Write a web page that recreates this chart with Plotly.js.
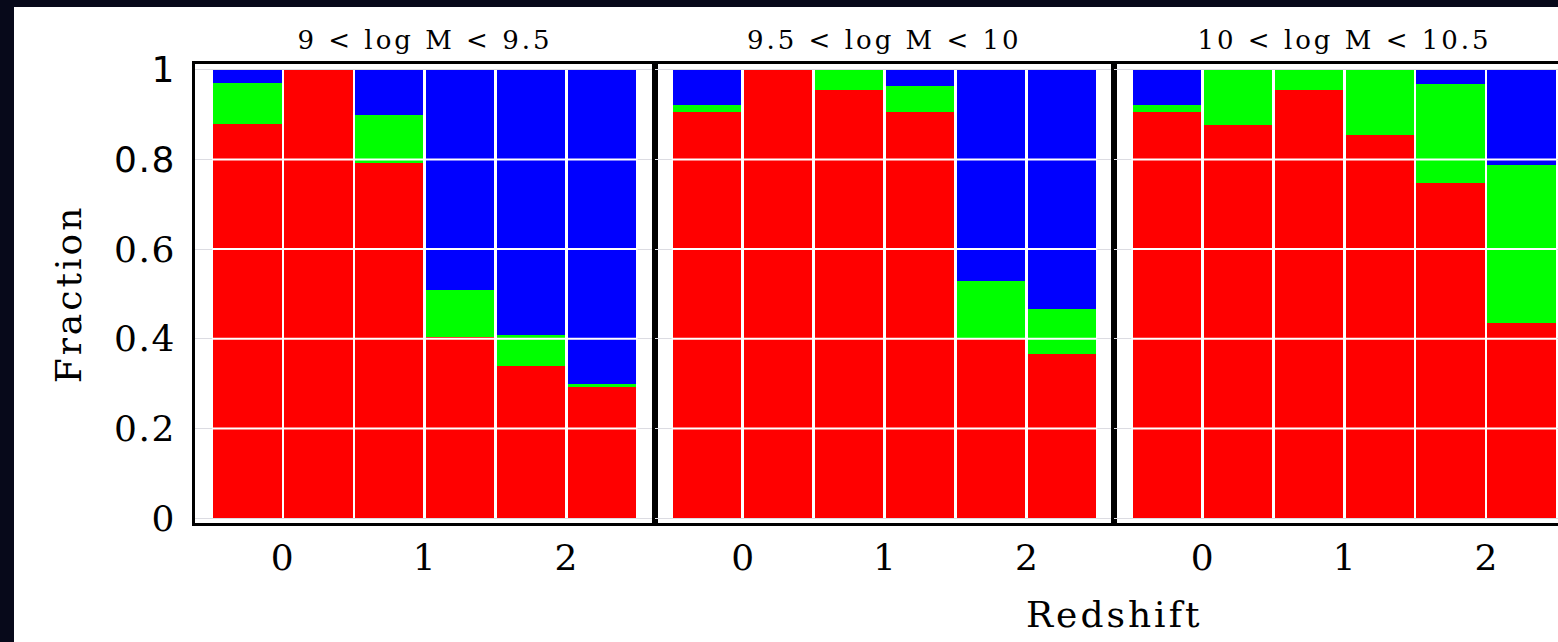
<!DOCTYPE html>
<html>
<head>
<meta charset="utf-8">
<script src="https://cdn.plot.ly/plotly-3.0.1.min.js"></script>
<style>
  html, body { margin: 0; padding: 0; background: #07091a; overflow: hidden; width: 1558px; height: 642px; }
  #chart { position: absolute; left: 14px; top: 7px; width: 1600px; height: 635px; }
  #chart .xtick text, #chart .ytick text { letter-spacing: 1.5px; }
  #chart .annotation-text { letter-spacing: 3px; }
</style>
</head>
<body>
<div id="chart"></div>
<script>
// Redshift bin centres (bins are 0.5 wide)
const zBins = [-0.25, 0.25, 0.75, 1.25, 1.75, 2.25];

// Stellar-mass bins, one panel each
const massBins = ['9 < log M < 9.5', '9.5 < log M < 10', '10 < log M < 10.5'];

// Fractions per redshift bin, stacked red / green / blue
const redLow   = [0.880, 1.000, 0.793, 0.405, 0.340, 0.293];
const greenLow = [0.090, 0.000, 0.106, 0.103, 0.068, 0.005];
const blueLow  = [0.030, 0.000, 0.101, 0.492, 0.592, 0.702];

const redMid   = [0.907, 1.000, 0.956, 0.905, 0.400, 0.365];
const greenMid = [0.014, 0.000, 0.044, 0.058, 0.130, 0.102];
const blueMid  = [0.079, 0.000, 0.000, 0.037, 0.470, 0.533];

const redHigh   = [0.907, 0.878, 0.956, 0.855, 0.747, 0.435];
const greenHigh = [0.014, 0.122, 0.044, 0.145, 0.222, 0.352];
const blueHigh  = [0.079, 0.000, 0.000, 0.000, 0.031, 0.213];

// Axis ticks
const xTicks = [0, 1, 2];
const xTickLabels = ['0', '1', '2'];
const yTicks = [0, 0.2, 0.4, 0.6, 0.8, 1];
const yTickLabels = ['0', '0.2', '0.4', '0.6',
  "<span style='font-family:DejaVu Sans'>0.8</span>",
  "<span style='font-family:DejaVu Sans'>1</span>"];

const panelData = [
  [redLow, greenLow, blueLow],
  [redMid, greenMid, blueMid],
  [redHigh, greenHigh, blueHigh]
];
const colours = ['#ff0000', '#00ff00', '#0000ff'];
const binWidth = 0.5;

const serif = 'DejaVu Serif, serif';
const traces = [];
const shapes = [];
const layout = {
  width: 1600, height: 635,
  margin: {l: 181, r: 40, t: 57, b: 119, pad: 0},
  paper_bgcolor: '#ffffff',
  plot_bgcolor: '#ffffff',
  barmode: 'stack',
  showlegend: false,
  font: {family: serif, color: '#000000'},
  annotations: []
};

panelData.forEach((series, p) => {
  const suf = p === 0 ? '' : String(p + 1);
  series.forEach((vals, k) => {
    traces.push({
      type: 'bar', x: zBins, y: vals,
      xaxis: 'x' + suf, yaxis: 'y' + suf,
      width: binWidth * 0.962,
      marker: {color: colours[k], line: {width: 0}},
      hoverinfo: 'skip'
    });
  });

  layout['xaxis' + suf] = {
    domain: [p / 3, (p + 1) / 3],
    anchor: 'y' + suf,
    range: [-0.62, 2.62],
    tickvals: xTicks, ticktext: xTickLabels,
    ticks: '', ticklabelstandoff: 1,
    tickfont: {family: serif, size: 36, color: '#000'},
    showgrid: false, zeroline: false,
    showline: true, mirror: true, linecolor: '#000', linewidth: 3
  };
  layout['yaxis' + suf] = {
    anchor: 'x' + suf,
    range: [-0.011, 1.013],
    tickvals: yTicks, ticktext: yTickLabels,
    showticklabels: p === 0,
    ticks: '', ticklabelstandoff: 9,
    tickfont: {family: serif, size: 36, color: '#000'},
    showgrid: true, gridcolor: '#dcdce2', gridwidth: 1,
    zeroline: false,
    showline: true, mirror: true, linecolor: '#000', linewidth: 3
  };

  // white grid lines drawn over the bars
  const xLeft = zBins[0] - binWidth / 2;
  const xRight = zBins[zBins.length - 1] + binWidth / 2;
  yTicks.filter(v => v > 0 && v < 1).forEach(v => {
    shapes.push({
      type: 'line', layer: 'above',
      xref: 'x' + suf, yref: 'y' + suf,
      x0: xLeft, x1: xRight, y0: v, y1: v,
      line: {color: '#ffffff', width: 2}
    });
  });

  layout.annotations.push({
    text: massBins[p], xref: 'paper', yref: 'paper',
    x: (p + 0.5) / 3, y: 1.052, xanchor: 'center', yanchor: 'middle',
    showarrow: false, font: {family: serif, size: 26, color: '#000'}
  });
});

layout.shapes = shapes;
layout.annotations.push({
  text: 'Fraction', xref: 'paper', yref: 'paper',
  x: -0.0915, y: 0.5, xanchor: 'center', yanchor: 'middle',
  textangle: -90, showarrow: false,
  font: {family: serif, size: 36, color: '#000'}
});
layout.annotations.push({
  text: 'Redshift', xref: 'paper', yref: 'paper',
  x: 2 / 3, y: -0.2, xanchor: 'center', yanchor: 'middle',
  showarrow: false,
  font: {family: serif, size: 36, color: '#000'}
});

Plotly.newPlot('chart', traces, layout, {displayModeBar: false, staticPlot: true});
</script>
</body>
</html>
